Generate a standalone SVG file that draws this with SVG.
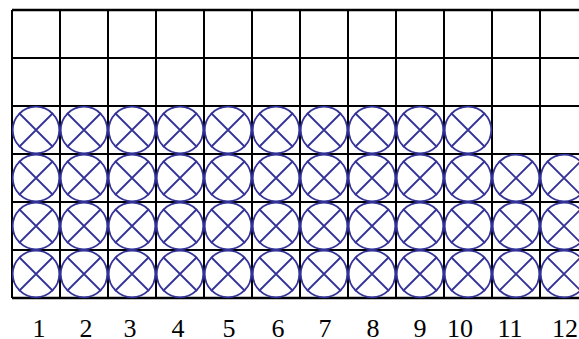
<svg xmlns="http://www.w3.org/2000/svg" width="579" height="339" viewBox="0 0 579 339">
<defs>
<style>
.g{stroke:#000;stroke-width:2;fill:none}
.c{stroke:#333399;stroke-width:1.8;fill:none}
.t{font-family:"Liberation Serif","Times New Roman",serif;font-size:26px;fill:#000;text-anchor:middle}
</style>
<g id="cx"><circle cx="0" cy="0" r="23.3"/><path d="M-17,-17L17,17M17,-17L-17,17"/></g>
</defs>
<rect width="579" height="339" fill="#fff"/>
<g id="grid" class="g">
<path d="M12,10H588M12,58H588M12,106H588M12,154H588M12,202H588M12,250H588M12,298H588"/>
<path d="M12,10V298M60,10V298M108,10V298M156,10V298M204,10V298M252,10V298M300,10V298M348,10V298M396,10V298M444,10V298M492,10V298M540,10V298"/>
<path d="M12,10H588M12,298H588" stroke-width="2.6"/>
</g>
<g id="marks" class="c">
<use href="#cx" x="36" y="130"/><use href="#cx" x="84" y="130"/><use href="#cx" x="132" y="130"/><use href="#cx" x="180" y="130"/><use href="#cx" x="228" y="130"/><use href="#cx" x="276" y="130"/><use href="#cx" x="324" y="130"/><use href="#cx" x="372" y="130"/><use href="#cx" x="420" y="130"/><use href="#cx" x="468" y="130"/>
<use href="#cx" x="36" y="178"/><use href="#cx" x="84" y="178"/><use href="#cx" x="132" y="178"/><use href="#cx" x="180" y="178"/><use href="#cx" x="228" y="178"/><use href="#cx" x="276" y="178"/><use href="#cx" x="324" y="178"/><use href="#cx" x="372" y="178"/><use href="#cx" x="420" y="178"/><use href="#cx" x="468" y="178"/><use href="#cx" x="516" y="178"/><use href="#cx" x="564" y="178"/>
<use href="#cx" x="36" y="226"/><use href="#cx" x="84" y="226"/><use href="#cx" x="132" y="226"/><use href="#cx" x="180" y="226"/><use href="#cx" x="228" y="226"/><use href="#cx" x="276" y="226"/><use href="#cx" x="324" y="226"/><use href="#cx" x="372" y="226"/><use href="#cx" x="420" y="226"/><use href="#cx" x="468" y="226"/><use href="#cx" x="516" y="226"/><use href="#cx" x="564" y="226"/>
<use href="#cx" x="36" y="274"/><use href="#cx" x="84" y="274"/><use href="#cx" x="132" y="274"/><use href="#cx" x="180" y="274"/><use href="#cx" x="228" y="274"/><use href="#cx" x="276" y="274"/><use href="#cx" x="324" y="274"/><use href="#cx" x="372" y="274"/><use href="#cx" x="420" y="274"/><use href="#cx" x="468" y="274"/><use href="#cx" x="516" y="274"/><use href="#cx" x="564" y="274"/>
</g>
<g id="labels" class="t">
<text x="39" y="337">1</text><text x="86" y="337">2</text><text x="130" y="337">3</text><text x="178" y="337">4</text><text x="229" y="337">5</text><text x="278" y="337">6</text><text x="325" y="337">7</text><text x="373" y="337">8</text><text x="420" y="337">9</text><text x="460" y="337">10</text><text x="510" y="337">11</text><text x="565" y="337">12</text>
</g>
</svg>
